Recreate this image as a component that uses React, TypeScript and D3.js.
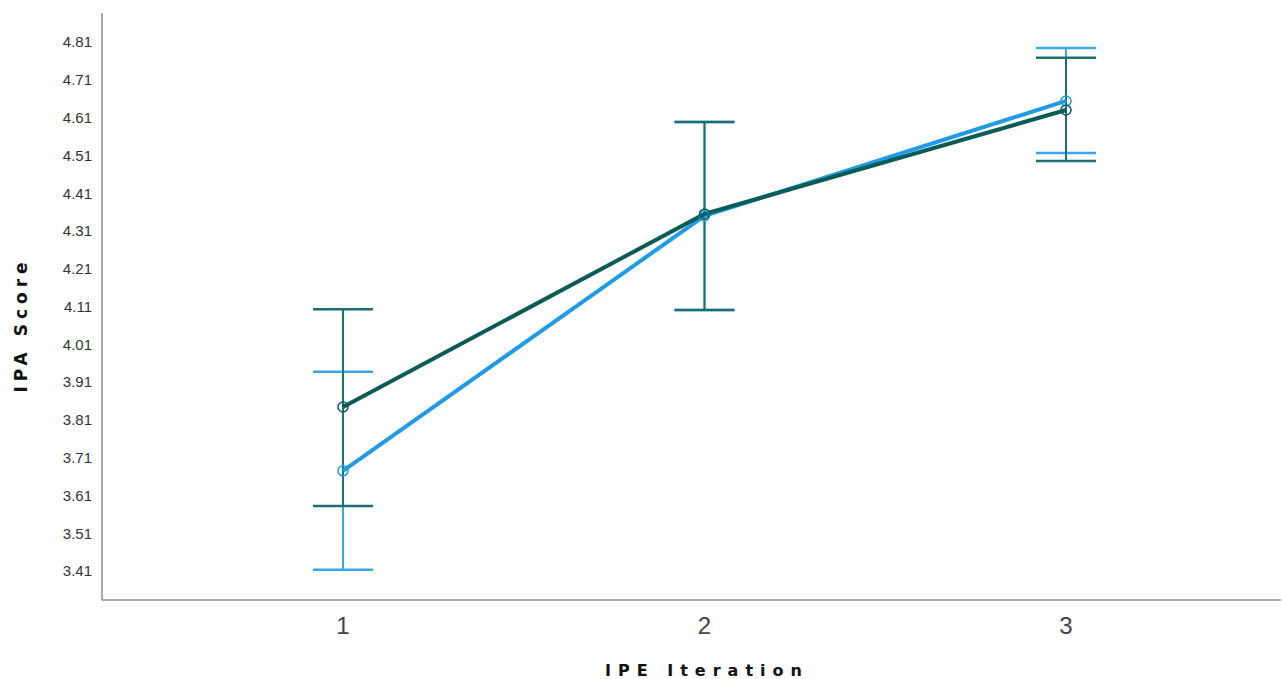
import React, { useRef, useEffect } from 'react';
import * as d3 from 'd3';

const categories = ['1', '2', '3'];
const yTicks = [3.41, 3.51, 3.61, 3.71, 3.81, 3.91, 4.01, 4.11, 4.21, 4.31, 4.41, 4.51, 4.61, 4.71, 4.81];

// light blue series
const blueMean = [3.675, 4.35, 4.654];
const blueLow = [3.413, 4.101, 4.516];
const blueHigh = [3.937, 4.598, 4.794];

// dark teal series
const tealMean = [3.844, 4.355, 4.63];
const tealLow = [3.582, 4.101, 4.495];
const tealHigh = [4.103, 4.598, 4.768];

const series = [
  { name: 'blue', mean: blueMean, low: blueLow, high: blueHigh, line: '#1f9be8', bar: '#3aa6ea' },
  { name: 'teal', mean: tealMean, low: tealLow, high: tealHigh, line: '#0b5b56', bar: '#1d6f70' },
];

function App() {
  const width = 1282;
  const height = 679;
  const svgRef = useRef<SVGSVGElement>(null);

  const axisLeft = 102;
  const axisRight = 1281;
  const axisBottom = 600;
  const axisTop = 13;

  const x = d3.scalePoint<string>().domain(categories).range([343, 1066]);
  const y = d3.scaleLinear().domain([3.41, 4.81]).range([571, 42]);

  useEffect(() => {
    const svg = d3.select(svgRef.current);
    svg.selectAll('*').remove();

    // axes
    svg.append('line')
      .attr('x1', axisLeft).attr('x2', axisLeft)
      .attr('y1', axisTop).attr('y2', axisBottom)
      .attr('stroke', '#8c8c8c').attr('stroke-width', 1.5);
    svg.append('line')
      .attr('x1', axisLeft).attr('x2', axisRight)
      .attr('y1', axisBottom).attr('y2', axisBottom)
      .attr('stroke', '#8c8c8c').attr('stroke-width', 1.5);

    svg.selectAll('text.ytick').data(yTicks)
      .enter().append('text')
      .attr('class', 'ytick')
      .attr('x', 92)
      .attr('y', d => y(d))
      .attr('dy', '0.36em')
      .attr('text-anchor', 'end')
      .attr('font-family', 'Liberation Sans, Arial, sans-serif')
      .attr('font-size', 15)
      .attr('fill', '#333')
      .text(d => d.toFixed(2));

    svg.selectAll('text.xtick').data(categories)
      .enter().append('text')
      .attr('class', 'xtick')
      .attr('x', d => x(d) as number)
      .attr('y', 634)
      .attr('text-anchor', 'middle')
      .attr('font-family', 'Liberation Sans Narrow, Liberation Sans, Arial, sans-serif')
      .attr('font-size', 24)
      .attr('fill', '#444')
      .text(d => d);

    svg.append('text')
      .attr('x', 707)
      .attr('y', 676)
      .attr('text-anchor', 'middle')
      .attr('font-family', 'DejaVu Sans, sans-serif')
      .attr('font-weight', 'bold')
      .attr('font-size', 16)
      .attr('letter-spacing', 7)
      .attr('fill', '#111')
      .text('IPE Iteration');

    svg.append('text')
      .attr('transform', 'translate(27,325) rotate(-90)')
      .attr('text-anchor', 'middle')
      .attr('font-family', 'DejaVu Sans, sans-serif')
      .attr('font-weight', 'bold')
      .attr('font-size', 17)
      .attr('letter-spacing', 5)
      .attr('fill', '#111')
      .text('IPA Score');

    // error bars
    const capHalf = 30;
    series.forEach(s => {
      const g = svg.append('g');
      categories.forEach((c, i) => {
        const cx = x(c) as number;
        g.append('line')
          .attr('x1', cx).attr('x2', cx)
          .attr('y1', y(s.low[i])).attr('y2', y(s.high[i]))
          .attr('stroke', s.bar).attr('stroke-width', 2);
        [s.low[i], s.high[i]].forEach(v => {
          g.append('line')
            .attr('x1', cx - capHalf).attr('x2', cx + capHalf)
            .attr('y1', y(v)).attr('y2', y(v))
            .attr('stroke', s.bar).attr('stroke-width', 2.5);
        });
      });
    });

    // mean lines
    const line = d3.line<number>()
      .x((_, i) => x(categories[i]) as number)
      .y(d => y(d));
    series.forEach(s => {
      svg.append('path')
        .attr('d', line(s.mean))
        .attr('fill', 'none')
        .attr('stroke', s.line)
        .attr('stroke-width', 4);
    });
    series.forEach(s => {
      svg.selectAll(null).data(s.mean)
        .enter().append('circle')
        .attr('cx', (_, i) => x(categories[i]) as number)
        .attr('cy', d => y(d))
        .attr('r', 5)
        .attr('fill', 'none')
        .attr('stroke', s.line)
        .attr('stroke-width', 1.5);
    });
  });

  return (
    <svg ref={svgRef} width={width} height={height}
      style={{ position: 'absolute', left: 0, top: 0, background: '#fff' }} />
  );
}

export default App;
